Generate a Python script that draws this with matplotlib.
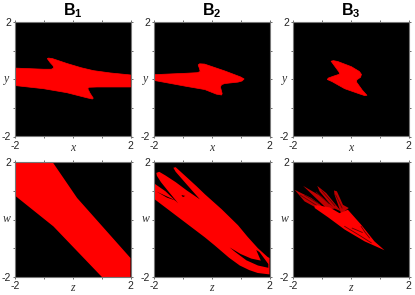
import matplotlib
matplotlib.use("Agg")
import matplotlib.pyplot as plt
from matplotlib.patches import Polygon

plt.rcParams['font.family'] = ['Liberation Sans', 'DejaVu Sans']
plt.rcParams['mathtext.fontset'] = 'custom'
plt.rcParams['mathtext.bf'] = 'Liberation Sans:bold'
plt.rcParams['mathtext.rm'] = 'Liberation Sans'

titles = ['B_1', 'B_2', 'B_3']
tick_values = [-2, -1, 0, 1, 2]
tick_labels = ['-2', '', '', '', '2']

b1_xy = [(-2, .39), (-1.01, .35), (-.74, .35), (-.66, .39), (-.68, .47), (-.78, .58), (-.88, .72), (-.84, .74),
         (-.70, .72), (-.20, .55), (.30, .40), (.72, .30), (1.3, .22), (2, .15), (2, -.27), (.84, -.27),
         (.56, -.28), (.52, -.33), (.60, -.49), (.71, -.66), (.68, -.69), (.50, -.65), (-.20, -.47),
         (-1.01, -.33), (-2, -.22)]
b2_xy = [(-2, .16), (-.87, .21), (-.50, .23), (-.40, .27), (-.42, .36), (-.47, .50), (-.42, .54), (-.25, .53),
         (.45, .29), (1.0, .08), (1.12, .01), (1.05, -.06), (.91, -.10), (.45, -.15), (.34, -.19), (.30, -.27),
         (.36, -.50), (.34, -.55), (.16, -.52), (-.24, -.36), (-.87, -.25), (-2, -.04)]
b3_xy = [(-.68, .63), (-.60, .65), (-.45, .62), (.02, .44), (.30, .27), (.37, .17), (.34, .07), (.21, -.02),
         (.20, -.10), (.40, -.38), (.56, -.56), (.48, -.57), (.30, -.51), (-.21, -.33), (-.65, -.08), (-.81, -.01),
         (-.78, .04), (-.62, .10), (-.38, .18), (-.41, .26), (-.55, .45)]
b1_zw = [(-2, 2), (-.70, 2), (.15, .75), (2, -1.34), (2, -2), (1.01, -2), (-.67, -.24), (-2, .83)]
b2_zw = [(-2, 1.26), (-1.60, .98), (-1.16, .56), (-1.52, 1.0), (-1.76, 1.3), (-1.90, 1.52), (-1.92, 1.62),
         (-1.82, 1.66), (-1.60, 1.53), (-1.25, 1.30), (-.85, 1.0), (-.41, .70), (-.85, 1.2), (-1.25, 1.66), (-1.33, 1.80),
         (-1.25, 1.82), (-.90, 1.50), (-.53, 1.16), (-.24, .88), (.34, .36), (.91, -.20), (1.24, -.60), (1.6, -1.0), (1.93, -1.3),
         (2, -1.34), (2, -1.91), (1.59, -1.86), (1.3, -1.76), (.97, -1.6), (.6, -1.33), (.10, -.90), (-.24, -.62), (-2, .72)]
b2_zw_slit = [(-1.91, .97), (-1.55, .80), (-1.22, .65), (-1.55, .76)]
b2_zw_speck = [(-1.05, .85), (-.92, .82), (-1.0, .78)]
b2_zw_crescent = [(.62, -.97), (1.0, -1.2), (1.37, -1.36), (1.70, -1.43), (1.54, -1.06), (1.65, -1.13),
                  (1.85, -1.4), (1.96, -1.55), (1.96, -1.68), (1.6, -1.6), (1.2, -1.42), (.8, -1.12)]
b3_zw_fingers = [
    [(-1.94, 1.03), (-1.37, .75), (-.90, .40), (-.85, .22), (-1.60, .63)],
    [(-1.65, 1.17), (-1.02, .80), (-.55, .38), (-.80, .35), (-1.37, .90)],
    [(-1.16, 1.17), (-.85, .92), (-.33, .28), (-.60, .40), (-1.08, .98)],
    [(-.58, 1.01), (-.48, .98), (-.27, .51), (-.07, .40), (-.33, .20), (-.56, .86)],
]
b3_zw_core = [(-1.25, .51), (-.73, .42), (-.39, .22), (-.10, .34), (.36, -.18), (.82, -.76), (1.17, -1.07),
              (.48, -.76), (-.21, -.35), (-.79, .08), (-1.25, .40)]
b3_zw_streaks = [[(-.21, -.24), (.30, -.55), (.71, -.81)], [(.36, -.24), (.50, -.45), (.65, -.64)],
                 [(.05, -.30), (.40, -.45)], [(-1.6, .85), (-1.1, .55)], [(-1.2, .95), (-.75, .55)],
                 [(-1.75, .85), (-1.2, .50)], [(-1.0, 1.0), (-.55, .48)], [(-.52, .85), (-.30, .40)]]

LEFTS = [15, 154, 293]
W, H = 415, 295
AX_W = 115.5
RED = '#ff0000'


def make_ax(col, top, height, xlabel, ylabel):
    ax = fig.add_axes([LEFTS[col] / W, 1 - (top + height) / H, AX_W / W, height / H])
    ax.set_facecolor('black')
    ax.set_xlim(-2, 2)
    ax.set_ylim(-2, 2)
    ax.set_xticks(tick_values, tick_labels)
    ax.set_yticks(tick_values, tick_labels)
    ax.tick_params(direction='out', length=1.5, width=.6, color='#555555', labelsize=7.5,
                   pad=1.5, top=True, right=True, labelcolor='#222222')
    for s in ax.spines.values():
        s.set_color('#777777')
        s.set_linewidth(.8)
    ax.set_xlabel(xlabel, family='Liberation Serif', style='italic', fontsize=8.5, labelpad=-6.5, color='#333333')
    ax.set_ylabel(ylabel, family='Liberation Serif', style='italic', fontsize=8.5, labelpad=-3.5,
                  rotation=0, va='center', color='#333333')
    return ax


def fill(ax, pts, color=RED, stroke=.5):
    ax.add_patch(Polygon(pts, closed=True, facecolor=color, edgecolor=color, linewidth=stroke, joinstyle='round'))


fig = plt.figure(figsize=(W / 100, H / 100), dpi=100, facecolor='white')

top_shapes = [b1_xy, b2_xy, b3_xy]
for i in range(3):
    ax = make_ax(i, 22, 114.5, 'x', 'y')
    fill(ax, top_shapes[i])
    ax.set_title(rf'$\mathbf{{{titles[i]}}}$', fontsize=11.5, pad=4.5, color='black')

ax = make_ax(0, 162, 115, 'z', 'w')
fill(ax, b1_zw, stroke=0)

ax = make_ax(1, 162, 115, 'z', 'w')
fill(ax, b2_zw, stroke=0)
fill(ax, b2_zw_slit, 'black', 0)
fill(ax, b2_zw_speck, 'black', 0)
fill(ax, b2_zw_crescent, 'black', 0)

ax = make_ax(2, 162, 115, 'z', 'w')
for f in b3_zw_fingers:
    fill(ax, f, '#c00000', 0)
fill(ax, b3_zw_core, stroke=0)
for s in b3_zw_streaks:
    ax.plot(*zip(*s), color='#600000', lw=.6)

fig.savefig('out.png', dpi=100, facecolor='white')
